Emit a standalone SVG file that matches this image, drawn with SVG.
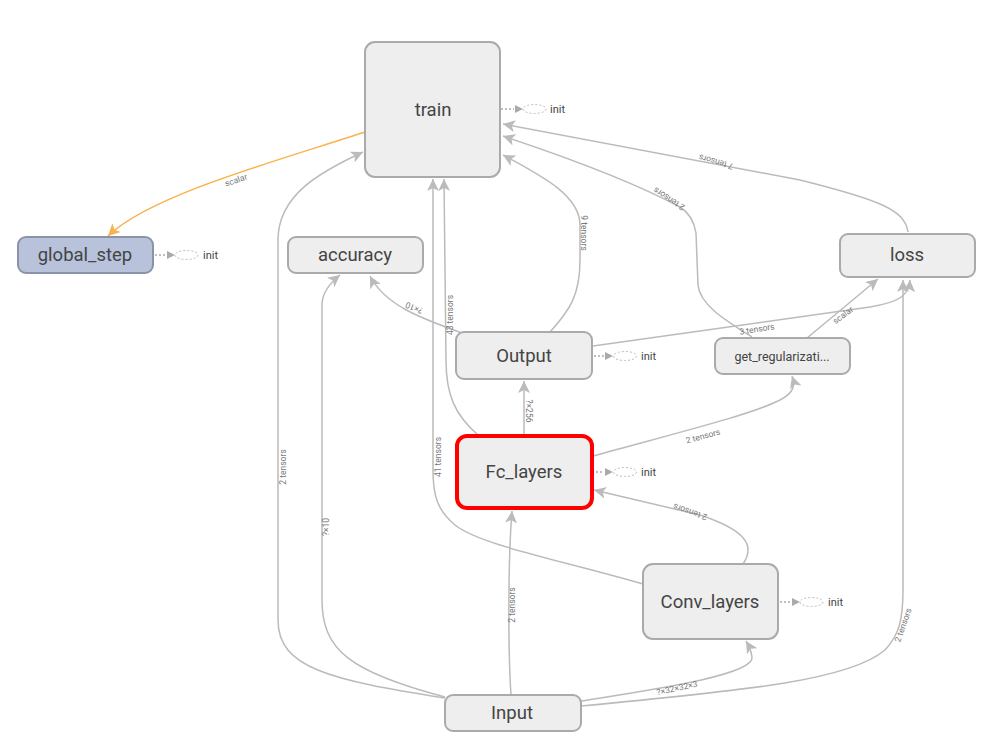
<svg xmlns="http://www.w3.org/2000/svg" width="996" height="747" viewBox="0 0 996 747">
<style>
.node rect{fill:#eeeeee;stroke:#aaaaaa;stroke-width:2}
.node text.lbl{font-family:Roboto,"Liberation Sans",sans-serif;font-size:18.5px;fill:#444;text-anchor:middle}
.init line{stroke:#aaa;stroke-width:1.5;stroke-dasharray:2,2}
.init polygon{fill:#aaa}
.init ellipse{fill:none;stroke:#bbb;stroke-width:1;stroke-dasharray:2,2}
.init text{font-family:Roboto,"Liberation Sans",sans-serif;font-size:11px;fill:#444}
.edge{fill:none;stroke:#bbbbbb;stroke-width:1.5;marker-end:url(#arr)}
.edge.ref{stroke:#f9b24d;marker-end:url(#arro)}
.el{font-family:Roboto,"Liberation Sans",sans-serif;font-size:8.5px;fill:#777;text-anchor:middle;dominant-baseline:central}
</style>
<defs>
<marker id="arr" markerUnits="userSpaceOnUse" markerWidth="12" markerHeight="12" refX="10" refY="5" viewBox="0 0 10 10" orient="auto">
<path d="M0,0 L10,5 L0,10 L2.5,5 z" fill="#bbbbbb"/>
</marker>
<marker id="arro" markerUnits="userSpaceOnUse" markerWidth="12" markerHeight="12" refX="10" refY="5" viewBox="0 0 10 10" orient="auto">
<path d="M0,0 L10,5 L0,10 L2.5,5 z" fill="#f9b24d"/>
</marker>
</defs>
<rect width="996" height="747" fill="#ffffff"/>
<g id="connectors">
<path class="edge ref" d="M365,132 C280,160 150,195 108,236"/>
<path class="edge" d="M445,698 C330,680 278,668 278,620 L278,240 C278,195 320,172 363,152"/>
<path class="edge" d="M445,697 C350,672 322,650 322,600 L322,305 C322,292 330,283 340,275"/>
<path class="edge" d="M462,333 C420,318 385,305 370,276"/>
<path class="edge" d="M593,346 L870,307 C900,302 909,295 910,280"/>
<path class="edge" d="M807,338 L878,279"/>
<path class="edge" d="M581,706 C750,690 850,680 885,650 C899,635 903,620 903,590 L903,280"/>
<path class="edge" d="M581,701 C650,690 755,675 752,657 C751,650 749,646 746,641"/>
<path class="edge" d="M511,695 C508,650 508,560 512,511"/>
<path class="edge" d="M524,435 L524,381"/>
<path class="edge" d="M743,564 C756,545 745,530 700,515 L594,490"/>
<path class="edge" d="M643,584 C560,560 480,545 455,525 C437,510 433,495 433,470 L433,179"/>
<path class="edge" d="M478,435 C455,415 446,395 446,360 L444,179"/>
<path class="edge" d="M550,332 C570,310 580,295 580,260 L580,225 C580,195 540,175 503,155"/>
<path class="edge" d="M752,337 C725,320 700,305 698,285 L696,233 C694,220 688,212 680,207 C630,180 560,155 503,136"/>
<path class="edge" d="M908,232 C905,210 880,200 800,180 L503,124"/>
<path class="edge" d="M593,456 C680,432 750,415 780,400 C795,392 795,385 792,376"/>
<text class="el" transform="translate(236,180) rotate(-19)">scalar</text>
<text class="el" transform="translate(283,467) rotate(-90)">2 tensors</text>
<text class="el" transform="translate(326,527) rotate(-90)">?×10</text>
<text class="el" transform="translate(414,308) rotate(202)">?×10</text>
<text class="el" transform="translate(450,315) rotate(-90)">43 tensors</text>
<text class="el" transform="translate(584,233) rotate(90)">9 tensors</text>
<text class="el" transform="translate(438,457) rotate(-90)">41 tensors</text>
<text class="el" transform="translate(529,411) rotate(90)">?×256</text>
<text class="el" transform="translate(512,605) rotate(-90)">2 tensors</text>
<text class="el" transform="translate(690,512) rotate(199)">2 tensors</text>
<text class="el" transform="translate(703,436) rotate(-15)">2 tensors</text>
<text class="el" transform="translate(757,329) rotate(-9)">3 tensors</text>
<text class="el" transform="translate(843,315) rotate(-37)">scalar</text>
<text class="el" transform="translate(669,199) rotate(213)">2 tensors</text>
<text class="el" transform="translate(716,162) rotate(196)">7 tensors</text>
<text class="el" transform="translate(903,625) rotate(-71)">2 tensors</text>
<text class="el" transform="translate(677,688) rotate(-12)">?×32×32×3</text>
</g>
<g id="node-train" class="node">
<rect x="365" y="42" width="135" height="135" rx="10"/>
<text class="lbl" x="433" y="116">train</text>
<g class="init"><line x1="501" y1="109" x2="514" y2="109"/><polygon points="515,105 523,109 515,113"/><ellipse cx="534.5" cy="109" rx="11.5" ry="4.5"/><text x="550" y="113">init</text></g>
</g>
<g id="node-global_step" class="node">
<rect x="18" y="237" width="135" height="36" rx="8" style="fill:#b8c2db;stroke:#8b93a8"/>
<text class="lbl" x="85" y="261">global_step</text>
<g class="init"><line x1="155" y1="255" x2="166" y2="255"/><polygon points="167,251 175,255 167,259"/><ellipse cx="186.5" cy="255" rx="11.5" ry="4.5"/><text x="203" y="259">init</text></g>
</g>
<g id="node-accuracy" class="node">
<rect x="288" y="237" width="135" height="36" rx="8"/>
<text class="lbl" x="355" y="261">accuracy</text>
</g>
<g id="node-loss" class="node">
<rect x="840" y="234" width="135" height="43" rx="8"/>
<text class="lbl" x="907" y="261">loss</text>
</g>
<g id="node-Output" class="node">
<rect x="456" y="332" width="136" height="47" rx="8"/>
<text class="lbl" x="524" y="362">Output</text>
<g class="init"><line x1="594" y1="356" x2="604" y2="356"/><polygon points="605,352 613,356 605,360"/><ellipse cx="625" cy="356" rx="11.5" ry="4.5"/><text x="641" y="360">init</text></g>
</g>
<g id="node-get_regularization" class="node">
<rect x="715" y="338" width="135" height="36" rx="8"/>
<text class="lbl" x="782" y="360.5" style="font-size:12.5px">get_regularizati...</text>
</g>
<g id="node-Fc_layers" class="node">
<rect x="457" y="436" width="135" height="72" rx="10" style="stroke:#ff0000;stroke-width:4"/>
<text class="lbl" x="524" y="478">Fc_layers</text>
<g class="init"><line x1="596" y1="472" x2="604" y2="472"/><polygon points="605,468 613,472 605,476"/><ellipse cx="625" cy="472" rx="11.5" ry="4.5"/><text x="641" y="476">init</text></g>
</g>
<g id="node-Conv_layers" class="node">
<rect x="643" y="564" width="135" height="75" rx="10"/>
<text class="lbl" x="710" y="608">Conv_layers</text>
<g class="init"><line x1="780" y1="602" x2="791" y2="602"/><polygon points="792,598 800,602 792,606"/><ellipse cx="811.5" cy="602" rx="11.5" ry="4.5"/><text x="828" y="606">init</text></g>
</g>
<g id="node-Input" class="node">
<rect x="445" y="695" width="136" height="36" rx="8"/>
<text class="lbl" x="512" y="719">Input</text>
</g>
</svg>
